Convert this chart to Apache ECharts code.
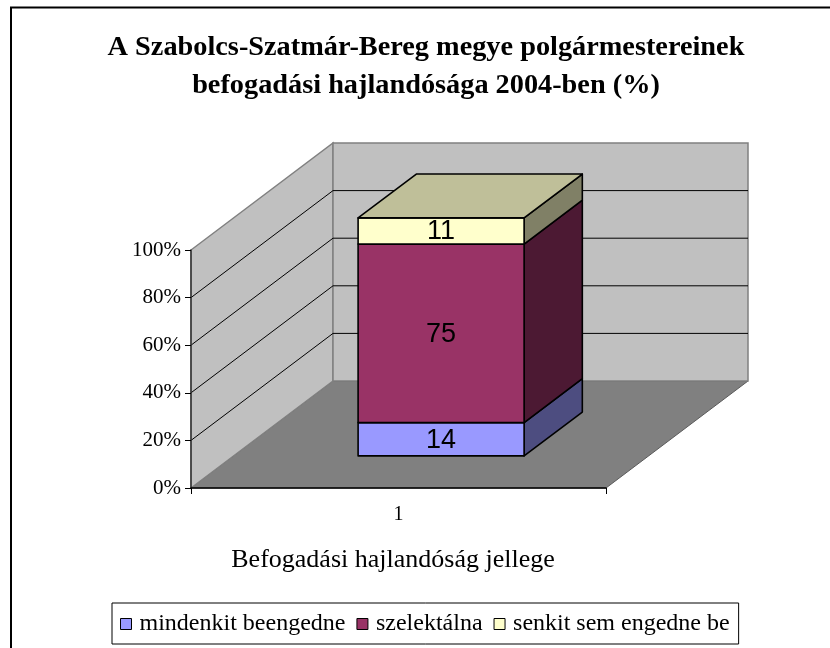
<!DOCTYPE html>
<html>
<head>
<meta charset="utf-8">
<title>Befogadási hajlandóság 2004</title>
<script src="https://cdn.jsdelivr.net/npm/echarts@6/dist/echarts.min.js"></script>
<style>
  html, body { margin: 0; padding: 0; background: #ffffff; }
  #chart { width: 830px; height: 648px; }
</style>
</head>
<body>
<div id="chart"></div>
<script>
// Category and series data (percentages, stacked to 100)
const categories = ['1'];
const seriesNames = ['mindenkit beengedne', 'szelektálna', 'senkit sem engedne be'];
const mindenkitBeengedne = [14];
const szelektalna = [75];
const senkitSemEngedneBe = [11];
const gridValues = [20, 40, 60, 80];

// Colours: front face, right side, top face
const palette = [
  { front: '#9999FF', side: '#4D4D80', top: '#BFBFFF' },
  { front: '#993366', side: '#4C1933', top: '#733D59' },
  { front: '#FFFFCC', side: '#808066', top: '#BFBF99' }
];

// Pseudo-3D depth vector (pixels from the front plane to the back wall)
const DEPTH_X = 142;
const DEPTH_Y = -107;
const BAR_FRONT = 0.30;   // fraction of depth where the bar's front face sits
const BAR_BACK = 0.71;    // fraction of depth where the bar's back face sits
const BAR_WIDTH = 0.40;   // fraction of the category band

const serif = '"Liberation Serif", "Times New Roman", serif';
const sans = '"Liberation Sans", Arial, sans-serif';

const valueSets = [mindenkitBeengedne, szelektalna, senkitSemEngedneBe];

// Build stacked [categoryIndex, start, end, value] items
const stackBase = categories.map(() => 0);
const stackedData = valueSets.map(values => values.map((v, i) => {
  const start = stackBase[i];
  stackBase[i] += v;
  return [i, start, stackBase[i], v];
}));

function wallsRenderItem(params, api) {
  const band = api.size([1, 0])[0];
  const p0 = api.coord([0, 0]);
  const p100 = api.coord([0, 100]);
  const last = api.coord([categories.length - 1, 0]);
  const x0 = p0[0] - band / 2;
  const x1 = last[0] + band / 2;
  const y0 = p0[1];
  const y1 = p100[1];
  const children = [];
  // floor
  children.push({
    type: 'polygon',
    shape: { points: [[x0, y0], [x1, y0], [x1 + DEPTH_X, y0 + DEPTH_Y], [x0 + DEPTH_X, y0 + DEPTH_Y]] },
    style: { fill: '#808080', stroke: '#5a5a5a', lineWidth: 1 }
  });
  // left side wall
  children.push({
    type: 'polygon',
    shape: { points: [[x0, y0], [x0 + DEPTH_X, y0 + DEPTH_Y], [x0 + DEPTH_X, y1 + DEPTH_Y], [x0, y1]] },
    style: { fill: '#C0C0C0', stroke: '#808080', lineWidth: 1.5 }
  });
  // back wall
  children.push({
    type: 'polygon',
    shape: { points: [[x0 + DEPTH_X, y0 + DEPTH_Y], [x1 + DEPTH_X, y0 + DEPTH_Y], [x1 + DEPTH_X, y1 + DEPTH_Y], [x0 + DEPTH_X, y1 + DEPTH_Y]] },
    style: { fill: '#C0C0C0', stroke: '#808080', lineWidth: 1.5 }
  });
  // gridlines running along the side wall and across the back wall
  gridValues.forEach(v => {
    const y = api.coord([0, v])[1];
    children.push({
      type: 'polyline',
      shape: { points: [[x0, y], [x0 + DEPTH_X, y + DEPTH_Y], [x1 + DEPTH_X, y + DEPTH_Y]] },
      style: { stroke: '#000000', lineWidth: 1, fill: null }
    });
  });
  return { type: 'group', children: children };
}

function makeBarRenderItem(seriesIndex, isTop) {
  const col = palette[seriesIndex];
  return function (params, api) {
    const cat = api.value(0);
    const start = api.value(1);
    const end = api.value(2);
    const val = api.value(3);
    const band = api.size([1, 0])[0];
    const pS = api.coord([cat, start]);
    const pE = api.coord([cat, end]);
    const w = band * BAR_WIDTH;
    const fx = DEPTH_X * BAR_FRONT, fy = DEPTH_Y * BAR_FRONT;
    const bx = DEPTH_X * BAR_BACK, by = DEPTH_Y * BAR_BACK;
    const xl = pS[0] - w / 2, xr = pS[0] + w / 2;
    const yS = pS[1], yE = pE[1];
    const stroke = { stroke: '#000000', lineWidth: 1.6, lineJoin: 'round' };
    const children = [
      {
        type: 'polygon',
        shape: { points: [[xr + fx, yS + fy], [xr + bx, yS + by], [xr + bx, yE + by], [xr + fx, yE + fy]] },
        style: Object.assign({ fill: col.side }, stroke)
      },
      {
        type: 'polygon',
        shape: { points: [[xl + fx, yS + fy], [xr + fx, yS + fy], [xr + fx, yE + fy], [xl + fx, yE + fy]] },
        style: Object.assign({ fill: col.front }, stroke)
      }
    ];
    if (isTop) {
      children.push({
        type: 'polygon',
        shape: { points: [[xl + fx, yE + fy], [xr + fx, yE + fy], [xr + bx, yE + by], [xl + bx, yE + by]] },
        style: Object.assign({ fill: col.top }, stroke)
      });
    }
    children.push({
      type: 'text',
      z2: 20,
      style: {
        text: String(val),
        x: (xl + xr) / 2 + fx,
        y: (yS + yE) / 2 + fy + 1,
        align: 'center',
        verticalAlign: 'middle',
        fontFamily: sans,
        fontSize: 27,
        fill: '#000000'
      }
    });
    return { type: 'group', children: children };
  };
}

const chart = echarts.init(document.getElementById('chart'), null, { renderer: 'canvas' });

const series = [
  {
    type: 'custom',
    name: 'walls',
    z: 1,
    silent: true,
    data: [[0]],
    renderItem: wallsRenderItem
  }
].concat(seriesNames.map((name, si) => ({
  type: 'custom',
  name: name,
  z: 3 + si,
  itemStyle: { color: palette[si].front },
  data: stackedData[si],
  renderItem: makeBarRenderItem(si, si === seriesNames.length - 1)
})));

chart.setOption({
  backgroundColor: '#ffffff',
  animation: false,
  graphic: [
    {
      type: 'rect',
      shape: { x: 11, y: 7.5, width: 900, height: 700 },
      style: { fill: null, stroke: '#000000', lineWidth: 2 },
      z: 0
    }
  ],
  title: {
    text: 'A Szabolcs-Szatmár-Bereg megye polgármestereinek\nbefogadási hajlandósága 2004-ben (%)',
    left: 421,
    top: 24,
    textAlign: 'center',
    textStyle: {
      fontFamily: serif,
      fontWeight: 'bold',
      fontSize: 28.3,
      lineHeight: 38,
      color: '#000000'
    }
  },
  legend: {
    data: seriesNames,
    left: 112,
    top: 603,
    orient: 'horizontal',
    icon: 'rect',
    itemWidth: 11,
    itemHeight: 11,
    itemGap: 11,
    padding: [9, 9, 8, 8],
    backgroundColor: '#ffffff',
    borderColor: '#000000',
    borderWidth: 1,
    borderRadius: 0,
    itemStyle: { borderColor: '#000000', borderWidth: 1 },
    textStyle: { fontFamily: serif, fontSize: 24, color: '#000000', padding: [0, 0, 0, 3] },
    selectedMode: false
  },
  grid: { left: 191, top: 250, width: 415, height: 238, containLabel: false },
  xAxis: {
    type: 'category',
    data: categories,
    z: 10,
    boundaryGap: true,
    axisLine: { show: true, lineStyle: { color: '#000000', width: 1.5 } },
    axisTick: { show: true, alignWithLabel: false, length: 6, lineStyle: { color: '#000000' } },
    axisLabel: { margin: 17, fontFamily: serif, fontSize: 20, color: '#000000' },
    splitLine: { show: false },
    name: 'Befogadási hajlandóság jellege',
    nameLocation: 'middle',
    nameGap: 59,
    nameTextStyle: { fontFamily: serif, fontSize: 26, color: '#000000', padding: [0, 11, 0, 0] }
  },
  yAxis: {
    type: 'value',
    min: 0,
    max: 100,
    interval: 20,
    z: 10,
    axisLine: { show: true, lineStyle: { color: '#333333', width: 1.5 } },
    axisTick: { show: true, inside: false, length: 6, lineStyle: { color: '#000000' } },
    axisLabel: { margin: 10, fontFamily: serif, fontSize: 21, color: '#000000', formatter: '{value}%' },
    splitLine: { show: false }
  },
  series: series
});
</script>
</body>
</html>
